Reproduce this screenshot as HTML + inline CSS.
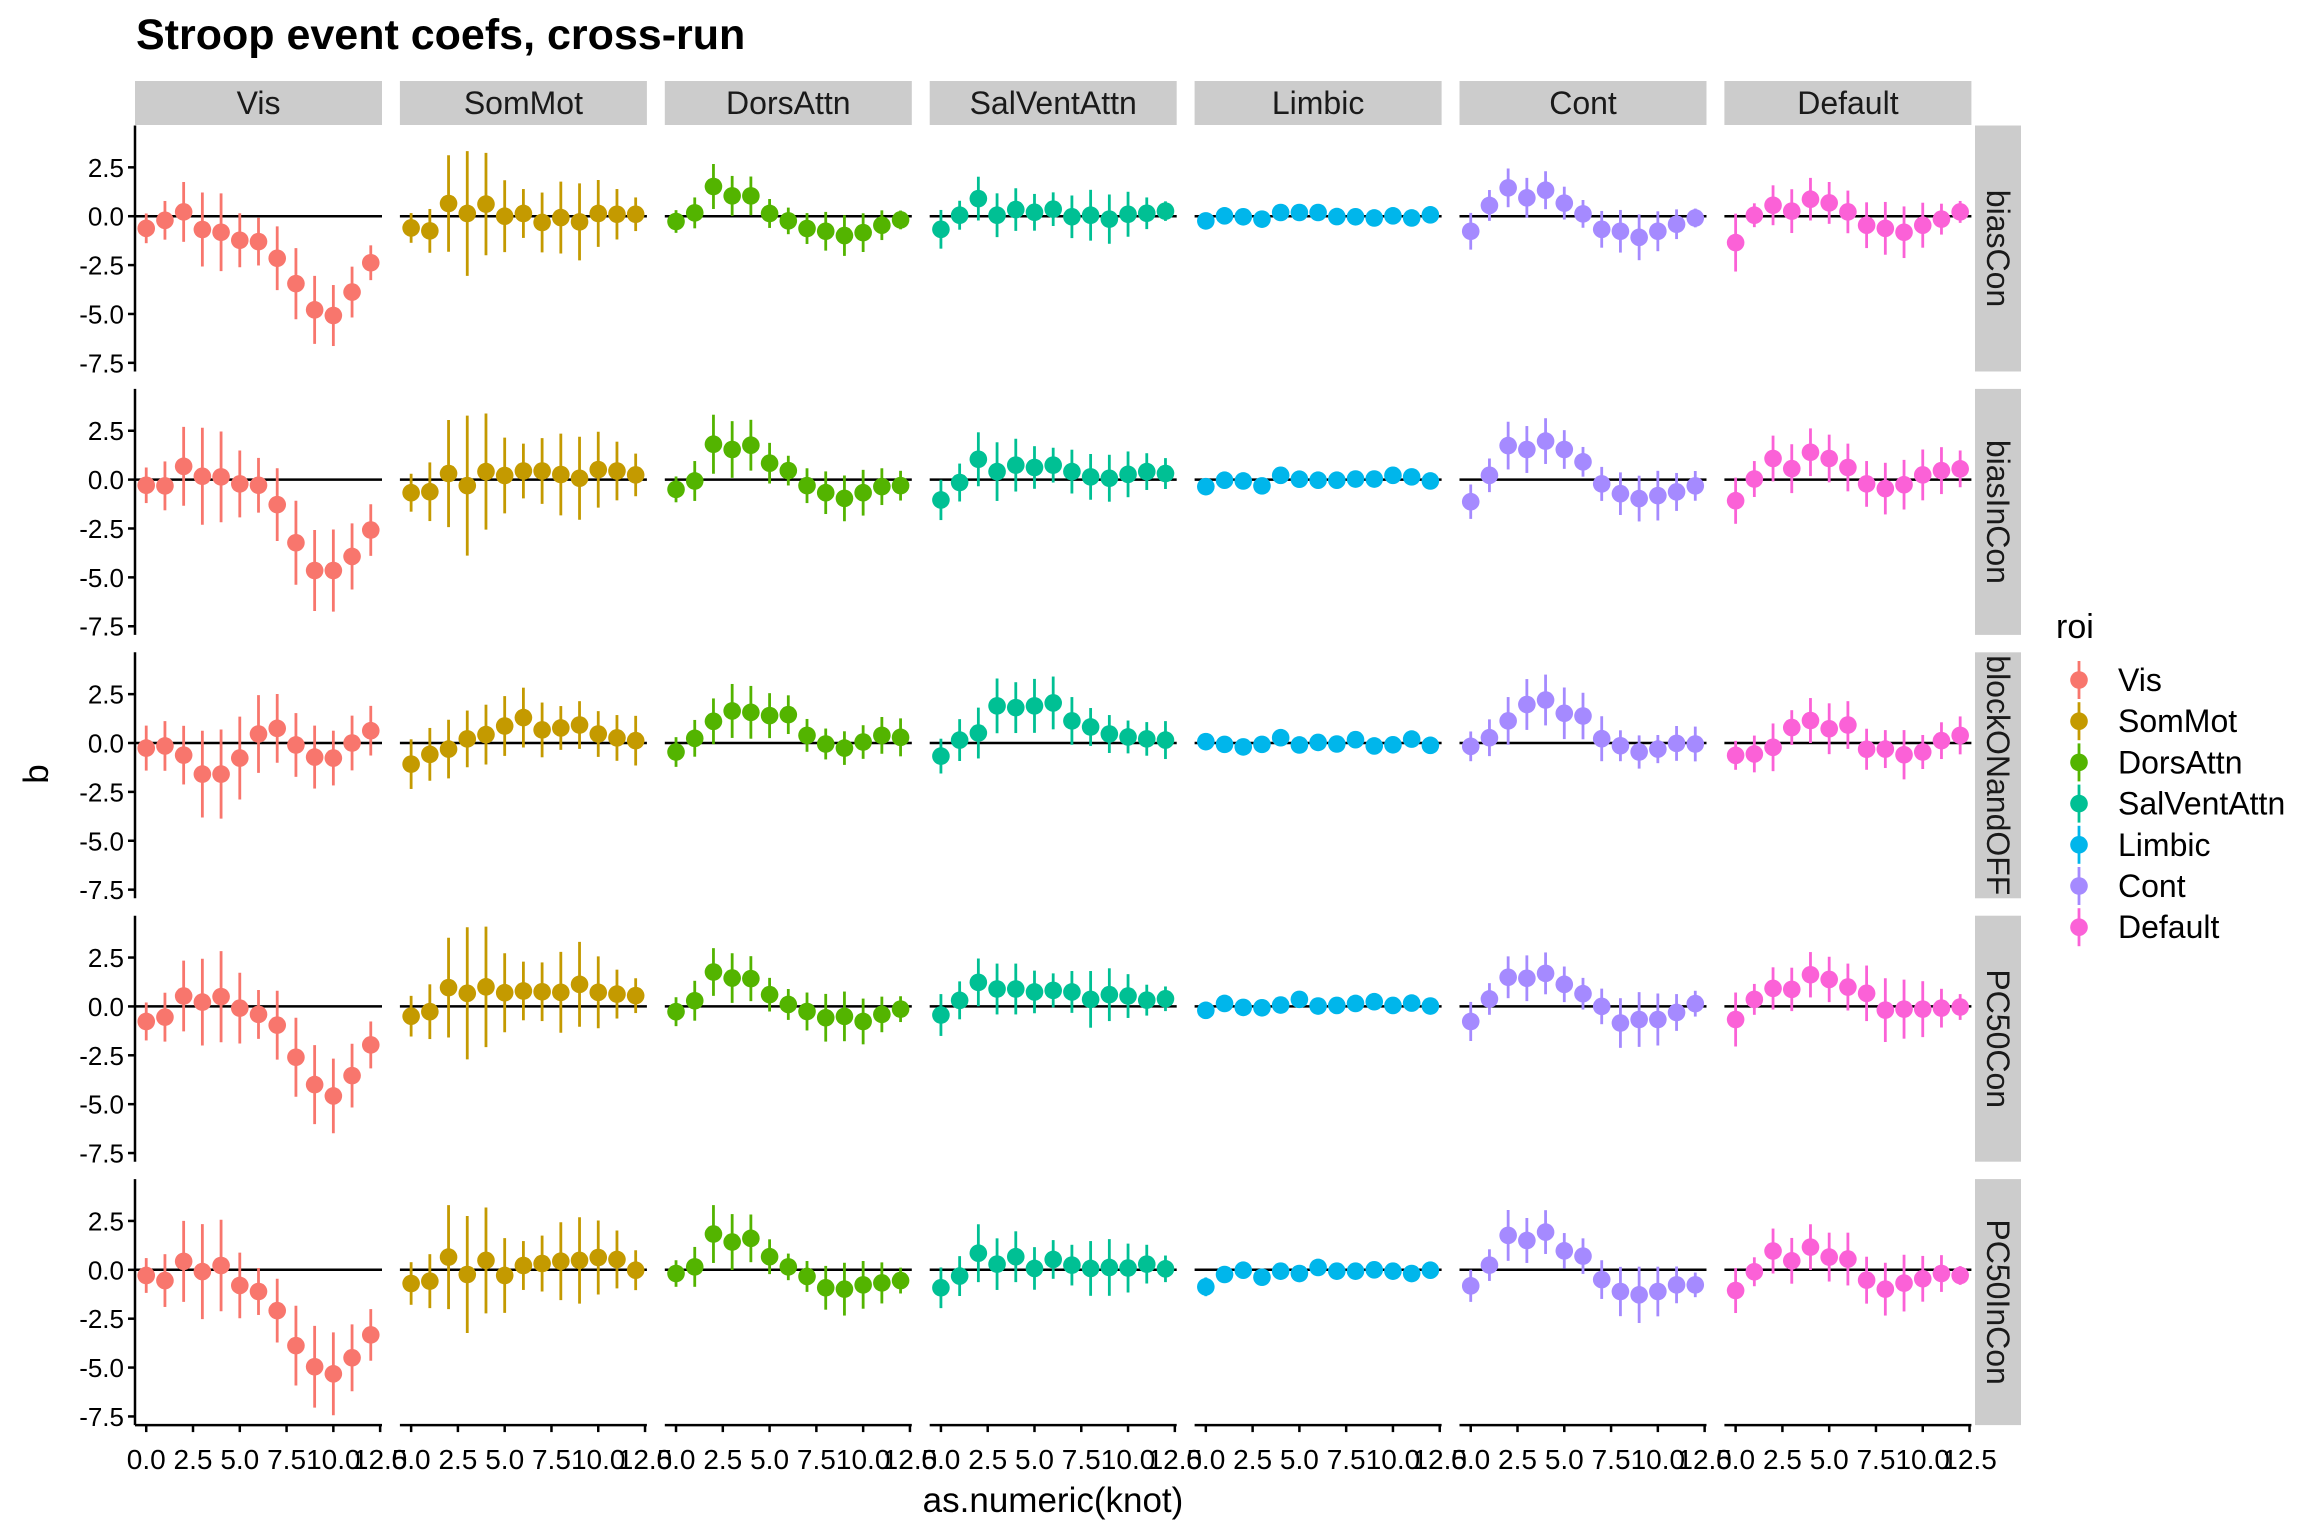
<!DOCTYPE html>
<html><head><meta charset="utf-8"><style>
html,body{margin:0;padding:0;background:#fff;}
svg{display:block;font-family:"Liberation Sans",Arial,sans-serif;}
</style></head><body>
<svg id="chart" width="2304" height="1536" viewBox="0 0 2304 1536" xmlns="http://www.w3.org/2000/svg">
<rect x="0" y="0" width="2304" height="1536" fill="#fff"/>
<text x="136" y="49" font-size="43" font-weight="bold" fill="#000">Stroop event coefs, cross-run</text>
<text x="1053" y="1512" font-size="35" text-anchor="middle" fill="#000">as.numeric(knot)</text>
<text x="0" y="0" font-size="35" text-anchor="middle" fill="#000" transform="translate(48,774) rotate(-90)">b</text>
<g id="plot"></g>
</svg>
<script>
const networks = ["Vis","SomMot","DorsAttn","SalVentAttn","Limbic","Cont","Default"];
const measures = ["biasCon","biasInCon","blockONandOFF","PC50Con","PC50InCon"];
const colors = ["#F8766D","#C49A00","#53B400","#00C094","#00B6EB","#A58AFF","#FB61D7"];
const knots = [0,1,2,3,4,5,6,7,8,9,10,11,12];
const xTicks = [0,2.5,5,7.5,10,12.5];
const xTickLabels = ["0.0","2.5","5.0","7.5","10.0","12.5"];
const yTicks = [2.5,0,-2.5,-5,-7.5];
const yTickLabels = ["2.5","0.0","-2.5","-5.0","-7.5"];

const biasConMean = [
 [-0.62,-0.21,0.22,-0.68,-0.82,-1.23,-1.30,-2.15,-3.45,-4.79,-5.08,-3.88,-2.38],
 [-0.6,-0.75,0.65,0.14,0.62,0,0.14,-0.32,-0.07,-0.29,0.14,0.1,0.1],
 [-0.27,0.17,1.52,1.04,1.04,0.14,-0.24,-0.63,-0.77,-0.99,-0.84,-0.46,-0.19],
 [-0.67,0.05,0.9,0.05,0.34,0.2,0.36,-0.03,0.05,-0.15,0.1,0.15,0.26],
 [-0.24,0.02,-0.03,-0.15,0.19,0.19,0.19,-0.02,-0.03,-0.09,0.02,-0.09,0.07],
 [-0.77,0.55,1.45,0.94,1.33,0.67,0.12,-0.67,-0.77,-1.08,-0.77,-0.41,-0.09],
 [-1.35,0.05,0.56,0.26,0.87,0.68,0.22,-0.46,-0.62,-0.82,-0.46,-0.15,0.22]];
const biasConHW = [
 [0.76,0.99,1.53,1.89,1.99,1.38,1.22,1.63,1.82,1.74,1.56,1.30,0.89],
 [0.76,1.12,2.47,3.19,2.62,1.84,1.25,1.53,1.84,1.97,1.71,1.29,0.86],
 [0.58,0.79,1.15,1.02,0.99,0.74,0.68,0.79,0.99,1.04,0.99,0.76,0.48],
 [0.99,0.74,1.12,1.12,1.09,0.94,0.86,1.09,1.3,1.26,1.15,0.81,0.5],
 [0.38,0.33,0.33,0.38,0.33,0.33,0.3,0.3,0.3,0.33,0.3,0.3,0.28],
 [0.94,0.79,0.99,1.02,0.97,0.84,0.71,0.94,1.09,1.17,1.02,0.76,0.48],
 [1.48,0.61,1.02,1.12,1.09,1.07,1.09,1.17,1.35,1.32,1.15,0.79,0.56]];

const biasInConMean = [
 [-0.29,-0.32,0.68,0.17,0.14,-0.22,-0.29,-1.28,-3.23,-4.65,-4.65,-3.93,-2.58],
 [-0.67,-0.62,0.31,-0.31,0.41,0.21,0.44,0.44,0.26,0.07,0.51,0.44,0.24],
 [-0.5,-0.07,1.81,1.54,1.76,0.84,0.46,-0.31,-0.67,-0.96,-0.67,-0.36,-0.31],
 [-1.04,-0.15,1.04,0.41,0.74,0.62,0.74,0.41,0.14,0.07,0.27,0.41,0.31],
 [-0.36,-0.03,-0.07,-0.32,0.22,0.02,-0.03,-0.03,0.03,0.03,0.22,0.14,-0.07],
 [-1.13,0.22,1.74,1.54,1.97,1.54,0.91,-0.22,-0.72,-0.97,-0.82,-0.63,-0.32],
 [-1.08,0.03,1.08,0.56,1.4,1.08,0.62,-0.22,-0.46,-0.26,0.24,0.46,0.55]];
const biasInConHW = [
 [0.91,1.25,2.02,2.48,2.32,1.71,1.4,1.86,2.15,2.07,2.1,1.69,1.32],
 [0.97,1.5,2.74,3.58,2.97,1.94,1.4,1.68,2.09,2.12,1.94,1.5,1.09],
 [0.66,1.02,1.51,1.45,1.3,1.04,0.76,0.89,1.09,1.17,1.17,0.94,0.76],
 [1.03,0.97,1.38,1.5,1.35,1.09,0.89,1.12,1.17,1.2,1.17,0.94,0.79],
 [0.38,0.33,0.33,0.38,0.3,0.33,0.3,0.3,0.33,0.3,0.33,0.3,0.33],
 [0.88,0.86,1.22,1.2,1.17,0.99,0.76,0.87,1.09,1.17,1.27,0.97,0.76],
 [1.18,0.92,1.17,1.25,1.22,1.22,1.22,1.17,1.32,1.27,1.3,1.2,0.94]];

const blockMean = [
 [-0.26,-0.15,-0.62,-1.59,-1.59,-0.77,0.46,0.75,-0.1,-0.72,-0.77,0,0.63],
 [-1.08,-0.58,-0.31,0.21,0.43,0.87,1.3,0.67,0.77,0.92,0.46,0.26,0.12],
 [-0.46,0.24,1.11,1.64,1.57,1.4,1.45,0.39,-0.05,-0.26,0.05,0.39,0.29],
 [-0.67,0.15,0.51,1.9,1.81,1.9,2.05,1.13,0.82,0.46,0.31,0.21,0.15],
 [0.07,-0.07,-0.2,-0.07,0.27,-0.1,0.03,-0.05,0.17,-0.15,-0.09,0.2,-0.12],
 [-0.17,0.27,1.13,1.97,2.2,1.52,1.38,0.22,-0.14,-0.46,-0.31,-0.02,-0.05],
 [-0.63,-0.56,-0.22,0.79,1.15,0.73,0.92,-0.32,-0.31,-0.6,-0.46,0.12,0.39]];
const blockHW = [
 [1.15,1.27,1.5,2.22,2.28,2.12,1.99,1.76,1.63,1.61,1.4,1.4,1.27],
 [1.27,1.35,1.5,1.45,1.53,1.53,1.53,1.4,1.12,1.22,1.17,1.17,1.27],
 [0.76,0.94,1.17,1.38,1.35,1.15,0.99,0.84,0.79,0.86,0.86,0.94,0.97],
 [0.89,1.07,1.3,1.4,1.3,1.38,1.35,1.22,0.97,0.97,0.84,0.86,0.97],
 [0.33,0.33,0.38,0.33,0.33,0.33,0.33,0.4,0.33,0.38,0.33,0.33,0.3],
 [0.76,0.94,1.22,1.3,1.3,1.32,1.19,1.15,0.79,0.85,0.72,0.89,0.89],
 [0.74,0.94,1.22,0.89,1.15,1.3,1.22,1.05,0.97,1.26,0.87,0.94,0.97]];

const pc50ConMean = [
 [-0.77,-0.55,0.53,0.22,0.5,-0.09,-0.41,-0.96,-2.6,-4.0,-4.58,-3.54,-1.97],
 [-0.5,-0.27,0.96,0.67,1.0,0.7,0.79,0.75,0.72,1.13,0.72,0.63,0.55],
 [-0.27,0.29,1.76,1.45,1.42,0.6,0.1,-0.26,-0.58,-0.51,-0.77,-0.41,-0.14],
 [-0.44,0.31,1.23,0.89,0.89,0.74,0.82,0.74,0.36,0.6,0.53,0.32,0.39],
 [-0.2,0.15,-0.05,-0.07,0.07,0.36,0.02,0.05,0.15,0.24,0.05,0.17,0.02],
 [-0.77,0.38,1.49,1.44,1.69,1.13,0.65,0,-0.85,-0.67,-0.67,-0.31,0.14],
 [-0.67,0.36,0.92,0.87,1.62,1.38,0.99,0.67,-0.19,-0.14,-0.14,-0.09,-0.03]];
const pc50ConHW = [
 [0.97,1.25,1.81,2.22,2.33,1.81,1.25,1.76,2.02,2.02,1.91,1.63,1.2],
 [1.04,1.4,2.55,3.38,3.08,2.02,1.5,1.5,2.07,2.17,1.84,1.25,0.89],
 [0.74,1.02,1.22,1.27,1.15,0.86,0.79,0.97,1.22,1.27,1.17,0.91,0.66],
 [1.07,0.97,1.22,1.3,1.3,1.09,0.87,1.07,1.45,1.35,1.12,0.79,0.63],
 [0.4,0.33,0.33,0.33,0.33,0.33,0.33,0.3,0.3,0.33,0.33,0.3,0.3],
 [1.0,0.81,1.07,1.17,1.07,0.91,0.81,0.91,1.27,1.4,1.33,0.94,0.66],
 [1.38,0.79,1.08,1.11,1.16,1.16,1.2,1.42,1.63,1.51,1.43,0.99,0.66]];

const pc50InConMean = [
 [-0.29,-0.55,0.43,-0.09,0.22,-0.8,-1.11,-2.09,-3.88,-4.96,-5.32,-4.5,-3.33],
 [-0.7,-0.58,0.65,-0.24,0.48,-0.29,0.22,0.32,0.44,0.48,0.63,0.53,-0.02],
 [-0.19,0.15,1.83,1.42,1.61,0.67,0.15,-0.34,-0.92,-0.99,-0.77,-0.67,-0.55],
 [-0.92,-0.32,0.85,0.29,0.67,0.07,0.53,0.24,0.07,0.12,0.09,0.29,0.05],
 [-0.87,-0.24,-0.02,-0.38,-0.07,-0.19,0.12,-0.07,-0.07,0,-0.07,-0.19,-0.02],
 [-0.82,0.24,1.76,1.5,1.93,0.97,0.7,-0.5,-1.11,-1.28,-1.11,-0.77,-0.77],
 [-1.06,-0.1,0.96,0.46,1.16,0.65,0.55,-0.53,-0.99,-0.68,-0.46,-0.19,-0.29]];
const pc50InConHW = [
 [0.89,1.35,2.07,2.43,2.34,1.68,1.2,1.63,2.04,2.09,2.12,1.71,1.32],
 [1.09,1.38,2.66,2.99,2.71,1.91,1.25,1.43,1.99,2.21,1.89,1.48,1.02],
 [0.68,1.02,1.48,1.43,1.22,0.89,0.68,0.79,1.12,1.35,1.22,1.05,0.66],
 [1.04,1.02,1.48,1.32,1.3,1.09,0.99,1.04,1.4,1.45,1.25,0.99,0.68],
 [0.48,0.33,0.33,0.43,0.3,0.33,0.3,0.33,0.33,0.38,0.33,0.33,0.3],
 [0.82,0.81,1.3,1.15,1.12,0.91,0.91,0.99,1.26,1.44,1.27,0.94,0.63],
 [1.15,0.74,1.15,1.17,1.17,1.25,1.35,1.2,1.35,1.45,1.17,0.94,0.48]];

const meanRows = [biasConMean, biasInConMean, blockMean, pc50ConMean, pc50InConMean];
const hwRows = [biasConHW, biasInConHW, blockHW, pc50ConHW, pc50InConHW];

const NS = "http://www.w3.org/2000/svg";
const plot = document.getElementById("plot");
const PX0 = 135, PW = 247, PPITCH = 264.9, XMIN = -0.6, XMAX = 12.6;
const PY0 = 125.5, PH = 246, RPITCH = 263.4, YMAX = 4.64, YPX = 19.55;
function xScale(col, v){ return PX0 + col*PPITCH + (v - XMIN)/(XMAX - XMIN)*PW; }
function yScale(row, v){ return PY0 + row*RPITCH + (YMAX - v)*YPX; }
function mk(tag, attrs, parent){
  const e = document.createElementNS(NS, tag);
  for (const k in attrs) e.setAttribute(k, attrs[k]);
  (parent || plot).appendChild(e);
  return e;
}

networks.forEach((n, c) => {
  const g = mk("g", {});
  
  
  mk("rect", {x: PX0 + c*PPITCH, y: 81, width: PW, height: 44, fill: "#CCCCCC"}, g);
  const t = mk("text", {x: PX0 + c*PPITCH + PW/2, y: 114, "font-size": 32, "text-anchor": "middle", fill: "#1a1a1a"}, g);
  t.textContent = n;
});
measures.forEach((m, r) => {
  const g = mk("g", {});
  
  
  const top = PY0 + r*RPITCH;
  mk("rect", {x: 1975, y: top, width: 46, height: PH, fill: "#CCCCCC"}, g);
  const t = mk("text", {x: 0, y: 0, "font-size": 32, "text-anchor": "middle", fill: "#1a1a1a",
    transform: "translate(1987," + (top + PH/2) + ") rotate(90)"}, g);
  t.textContent = m;
});

measures.forEach((m, r) => {
  networks.forEach((n, c) => {
    const g = mk("g", {});
    
    
    const zl = mk("line", {x1: PX0 + c*PPITCH, x2: PX0 + c*PPITCH + PW, y1: yScale(r,0), y2: yScale(r,0), stroke: "#000", "stroke-width": 2.5}, g);
    
    
    const means = meanRows[r][c], hws = hwRows[r][c];
    knots.forEach((k, i) => {
      const x = xScale(c, k);
      const eb = mk("line", {x1: x, x2: x, y1: yScale(r, means[i] + hws[i]), y2: yScale(r, means[i] - hws[i]), stroke: colors[c], "stroke-width": 2.8}, g);
      
      
    });
    knots.forEach((k, i) => {
      const pt = mk("circle", {cx: xScale(c, k), cy: yScale(r, means[i]), r: 8.8, fill: colors[c]}, g);
      
      
    });
  });
  const ag = mk("g", {});
  
  
  const top = PY0 + r*RPITCH;
  mk("line", {x1: PX0, x2: PX0, y1: top, y2: top + PH, stroke: "#000", "stroke-width": 2.5}, ag);
  yTicks.forEach((v, i) => {
    const y = yScale(r, v);
    mk("line", {x1: PX0 - 7, x2: PX0, y1: y, y2: y, stroke: "#000", "stroke-width": 2.5}, ag);
    const t = mk("text", {x: PX0 - 11, y: y + 9.5, "font-size": 26, "text-anchor": "end", fill: "#000"}, ag);
    t.textContent = yTickLabels[i];
  });
});

networks.forEach((n, c) => {
  const ag = mk("g", {});
  
  
  const yb = PY0 + 4*RPITCH + PH;
  mk("line", {x1: PX0 + c*PPITCH, x2: PX0 + c*PPITCH + PW, y1: yb, y2: yb, stroke: "#000", "stroke-width": 2.5}, ag);
  xTicks.forEach((v, i) => {
    const x = xScale(c, v);
    mk("line", {x1: x, x2: x, y1: yb, y2: yb + 7, stroke: "#000", "stroke-width": 2.5}, ag);
    const t = mk("text", {x: x, y: yb + 44, "font-size": 28, "text-anchor": "middle", fill: "#000"}, ag);
    t.textContent = xTickLabels[i];
  });
});

const lg = mk("g", {});


const lt = mk("text", {x: 2056, y: 638, "font-size": 34, fill: "#000"}, lg);
lt.textContent = "roi";
networks.forEach((n, i) => {
  const y = 680 + 41.2*i;
  const e = mk("g", {}, lg);
  
  
  mk("line", {x1: 2079, x2: 2079, y1: y - 19, y2: y + 19, stroke: colors[i], "stroke-width": 2.8}, e);
  mk("circle", {cx: 2079, cy: y, r: 8.8, fill: colors[i]}, e);
  const t = mk("text", {x: 2118, y: y + 11, "font-size": 32, fill: "#000"}, e);
  t.textContent = n;
});
</script>
</body></html>
